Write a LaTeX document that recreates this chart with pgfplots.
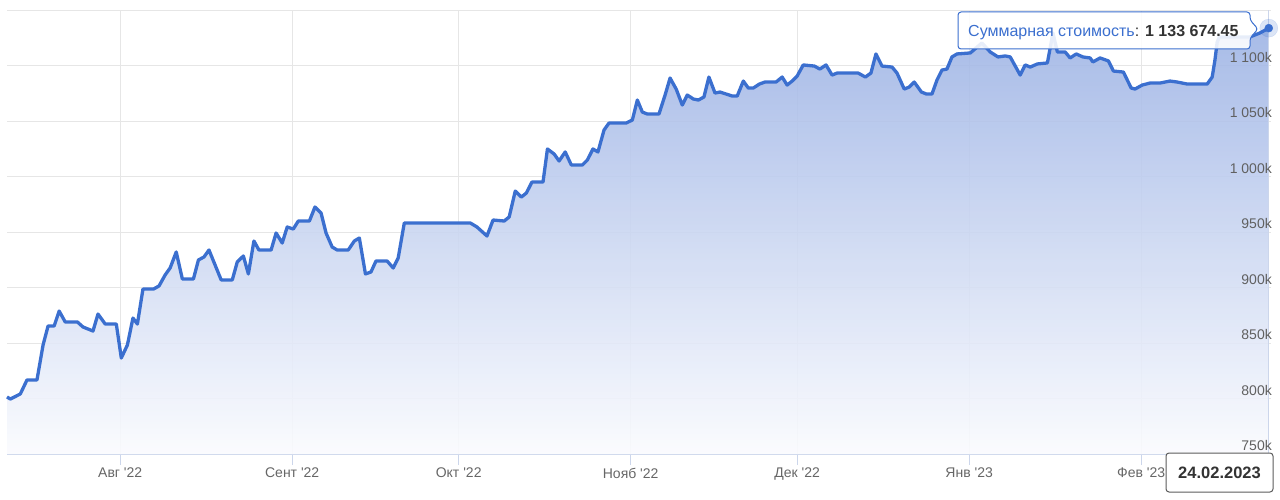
\documentclass[border=0pt]{standalone}
\usepackage{fontspec}
\setmainfont{Liberation Sans}
\usepackage{pgfplots}
\pgfplotsset{compat=1.18}
\usepackage{pgfplotstable}

\definecolor{lineC}{RGB}{59,111,207}
\definecolor{fillTop}{RGB}{158,180,229}
\definecolor{fillBot}{RGB}{250,251,254}
\definecolor{gridC}{RGB}{230,230,230}
\definecolor{axisC}{RGB}{204,214,235}
\definecolor{labelC}{RGB}{102,102,102}
\definecolor{ylabelC}{RGB}{96,96,96}
\definecolor{tipText}{RGB}{51,51,51}
\definecolor{crossC}{RGB}{204,214,235}

% d = days since 1 July 2022, v = value in thousands
\pgfplotstableread{
d v
10.6 801.4
11.2 799.5
13.0 804.1
14.2 816.7
16.0 816.7
17.1 848.2
18.0 865.3
19.1 865.3
20.0 878.8
21.1 868.9
23.3 868.9
24.3 864.4
26.1 860.8
27.0 876.1
28.3 867.1
30.3 867.1
31.2 836.5
32.3 848.2
33.3 872.5
34.1 867.1
35.1 898.6
37.0 898.6
38.0 901.4
39.1 911.3
40.0 917.6
41.1 932.0
42.2 907.7
44.2 907.7
45.1 924.8
46.1 927.5
47.0 933.8
49.2 906.8
51.2 906.8
52.1 923.0
53.2 928.4
54.1 912.2
55.1 941.9
56.0 933.8
58.2 933.8
59.1 949.1
60.2 940.1
61.1 954.5
62.2 952.7
63.1 959.9
65.1 959.9
66.1 972.5
67.2 967.1
68.1 949.1
69.2 936.5
70.1 933.8
72.1 933.8
73.2 941.9
74.1 944.6
75.2 912.2
76.2 914.0
77.1 923.9
79.1 923.9
80.2 917.6
81.1 926.6
82.2 958.1
94.1 958.1
95.3 954.5
97.1 946.4
98.2 960.8
100.2 959.9
101.1 963.5
102.2 986.9
103.3 981.5
104.2 985.1
105.2 995.0
107.2 995.0
108.0 1024.8
109.2 1020.3
110.1 1014.0
111.2 1022.1
112.3 1010.4
114.3 1010.4
115.2 1014.9
116.2 1024.8
117.1 1022.1
118.2 1041.9
119.1 1048.2
122.2 1048.2
123.3 1050.9
124.2 1068.9
125.1 1058.1
126.0 1056.3
128.1 1056.3
129.2 1073.4
130.1 1088.7
131.2 1078.8
132.3 1064.4
133.2 1073.4
134.3 1069.8
135.2 1068.9
136.2 1071.6
137.1 1089.6
138.2 1075.2
139.1 1076.1
140.2 1074.3
141.3 1072.5
142.2 1072.5
143.3 1086.0
144.2 1079.7
145.1 1079.7
146.2 1083.3
147.2 1085.1
149.2 1085.1
150.3 1089.6
151.2 1082.4
152.1 1086.0
153.0 1090.5
154.1 1100.5
156.1 1099.5
157.1 1096.8
158.2 1100.5
159.3 1091.4
160.2 1093.2
164.0 1093.2
165.3 1089.6
166.3 1093.2
167.2 1110.4
168.3 1099.5
170.1 1098.6
171.0 1093.2
172.3 1078.8
173.2 1080.6
174.1 1085.1
175.4 1076.1
176.3 1074.3
177.3 1074.3
178.2 1086.9
179.1 1095.9
180.0 1096.8
180.9 1107.7
181.8 1110.4
184.2 1111.3
186.3 1120.3
187.8 1112.2
189.2 1107.7
190.5 1108.6
191.4 1107.7
193.2 1091.4
194.1 1100.5
195.0 1098.6
196.3 1101.4
198.1 1102.3
199.1 1129.3
199.9 1112.2
201.3 1112.2
202.2 1106.8
203.3 1110.4
204.5 1107.7
205.8 1106.8
206.3 1103.2
207.6 1106.8
209.1 1104.1
210.0 1095.0
211.8 1094.1
213.2 1079.7
213.9 1078.8
215.2 1082.4
216.6 1084.2
218.4 1084.2
220.2 1086.0
221.5 1085.1
223.3 1083.3
226.9 1083.3
227.8 1089.6
228.3 1105.0
228.7 1121.2
229.1 1125.7
234.6 1125.7
236.4 1129.3
238.0 1133.67
}\portfolio

\begin{document}
\begin{tikzpicture}[x=1pt,y=1pt]
\path (0,0) rectangle (1280,499);
\begin{axis}[
  at={(7pt,45pt)}, anchor=south west,
  scale only axis, width=1264pt, height=444pt,
  xmin=10.6, xmax=238.4, ymin=750, ymax=1150,
  clip=false,
  axis x line*=bottom, axis y line*=right,
  x axis line style={draw=axisC, line width=1pt, -},
  y axis line style={draw=none, -},
  xtick={31,62,92,123,153,184,215},
  xticklabels={Авг \textquotesingle22, Сент \textquotesingle22, Окт \textquotesingle22, Нояб \textquotesingle22, Дек \textquotesingle22, Янв \textquotesingle23, Фев \textquotesingle23},
  ytick={750,800,...,1150},
  yticklabels={},
  grid=major,
  major grid style={draw=gridC, line width=1pt},
  tick align=outside,
  xtick style={draw=axisC, line width=1pt},
  ytick style={draw=none},
  major tick length=11pt,
  xticklabel style={font=\fontsize{14}{16}\selectfont, text=labelC, inner sep=0pt, anchor=north, yshift=-3pt},
  ylab/.style={anchor=south east, inner sep=0pt, xshift=1pt, yshift=3pt, text=ylabelC, font=\fontsize{14}{16}\selectfont},
]
\addplot[top color=fillTop, bottom color=fillBot, fill opacity=0.9, draw=none]
  table[x=d,y=v]{\portfolio} -- (axis cs:238,750) -- (axis cs:10.6,750) -- cycle;
\addplot[draw=crossC, line width=1pt] coordinates {(238,750) (238,1150)};
\addplot[draw=lineC, line width=3.3pt, line join=round] table[x=d,y=v]{\portfolio};
\addplot[only marks, mark=*, mark size=9pt, color=lineC, opacity=0.18] coordinates {(238,1133.67)};
\addplot[only marks, mark=*, mark size=4pt, mark options={fill=lineC, draw=lineC}] coordinates {(238,1133.67)};
% y tick labels, drawn after the plots so that they lie on top of the fill
\node[/pgfplots/ylab] at (axis cs:238.4,750) {750k};
\node[/pgfplots/ylab] at (axis cs:238.4,800) {800k};
\node[/pgfplots/ylab] at (axis cs:238.4,850) {850k};
\node[/pgfplots/ylab] at (axis cs:238.4,900) {900k};
\node[/pgfplots/ylab] at (axis cs:238.4,950) {950k};
\node[/pgfplots/ylab] at (axis cs:238.4,1000) {1 000k};
\node[/pgfplots/ylab] at (axis cs:238.4,1050) {1 050k};
\node[/pgfplots/ylab] at (axis cs:238.4,1100) {1 100k};
\end{axis}
% tooltip
\draw[draw=lineC, line width=1pt, fill=white, fill opacity=0.88, rounded corners=3pt]
  (958,487) -- (1250,487) -- (1250,479) -- (1258,470) -- (1250,461) -- (1250,450) -- (958,450) -- cycle;
\node[anchor=base west, inner sep=0pt, text=tipText, font=\fontsize{16}{19}\selectfont] at (968,462)
  {{\color{lineC}Суммарная стоимость}: \textbf{1 133 674.45}};
% date label
\draw[draw=tipText!80, line width=1pt, fill=white, rounded corners=3pt] (1166,46) rectangle (1273,7);
\node[inner sep=0pt, text=tipText, font=\bfseries\fontsize{16.5}{19}\selectfont] at (1219.5,26.5) {24.02.2023};
\pgfresetboundingbox
\path[use as bounding box] (0,0) rectangle (1280,499);
\end{tikzpicture}
\end{document}
